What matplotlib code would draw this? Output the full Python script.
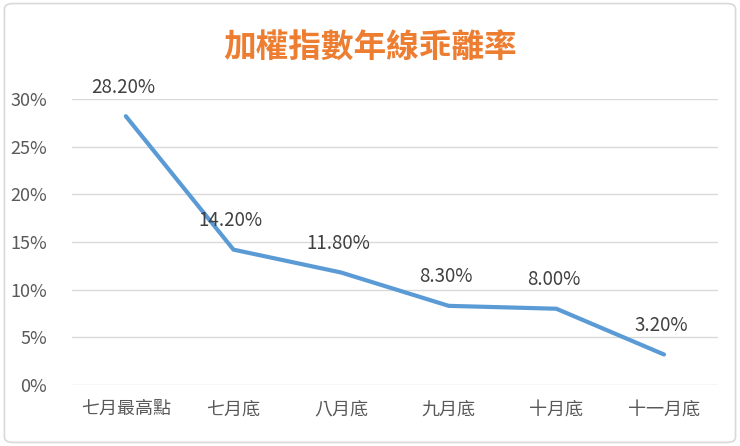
import matplotlib
matplotlib.use("Agg")
import matplotlib.pyplot as plt
from matplotlib.patches import FancyBboxPatch

plt.rcParams['font.family'] = ['Noto Sans CJK TC', 'DejaVu Sans']

categories = ['七月最高點', '七月底', '八月底', '九月底', '十月底', '十一月底']
values = [28.2, 14.2, 11.8, 8.3, 8.0, 3.2]
yticks = [0, 5, 10, 15, 20, 25, 30]
title = '加權指數年線乖離率'

fig = plt.figure(figsize=(7.4, 4.46), dpi=100)
ax = fig.add_axes([0.0973, 0.1368, 0.8727, 0.6412])

# rounded outer border
border = FancyBboxPatch((0.006, 0.008), 0.988, 0.984,
                        boxstyle="round,pad=0,rounding_size=0.012",
                        transform=fig.transFigure, fill=False,
                        edgecolor='#D9D9D9', linewidth=1.2)
fig.patches.append(border)

x = list(range(len(categories)))
ax.plot(x, values, color='#5B9BD5', linewidth=3, solid_capstyle='round',
        solid_joinstyle='round', zorder=3)

for xi, v in zip(x, values):
    ax.annotate('%.2f%%' % v, (xi, v), xytext=(-2, 21), textcoords='offset points',
                ha='center', va='center', fontsize=13.5, color='#404040')

ax.set_xlim(-0.5, len(categories) - 0.5)
ax.set_ylim(0, 30)
ax.set_yticks(yticks)
ax.set_yticklabels(['%d%%' % t for t in yticks])
ax.set_xticks(x)
ax.set_xticklabels(categories)
ax.tick_params(axis='both', length=0, labelsize=13, labelcolor='#595959')
ax.tick_params(axis='x', pad=11)
ax.tick_params(axis='y', pad=18)
ax.grid(axis='y', color='#D9D9D9', linewidth=1)
ax.set_axisbelow(True)
for s in ax.spines.values():
    s.set_visible(False)

fig.text(0.5, 0.893, title, ha='center', va='center', fontsize=23.5,
         fontweight='bold', color='#ED7D31')

fig.savefig('out.png', dpi=100)
